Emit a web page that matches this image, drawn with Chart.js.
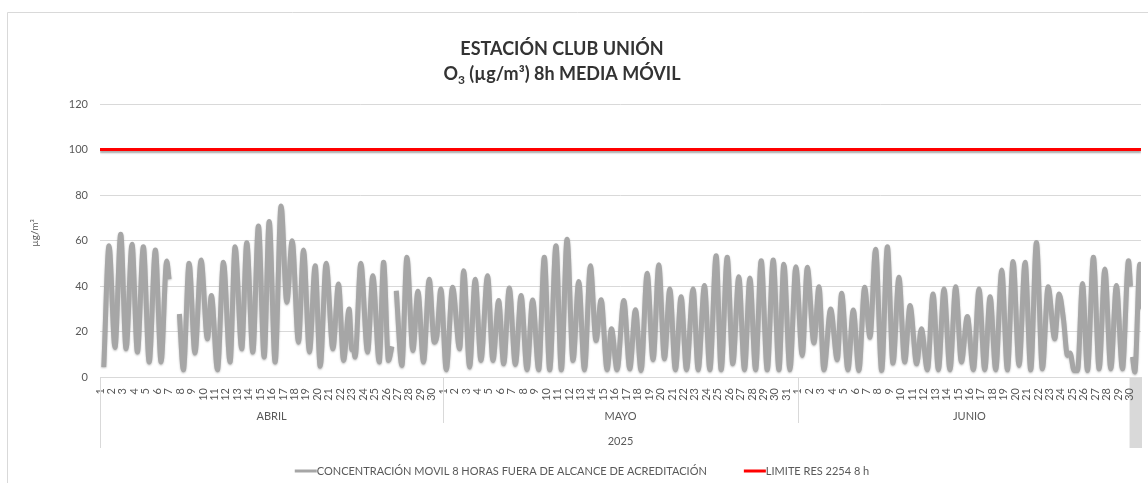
<!DOCTYPE html>
<html>
<head>
<meta charset="utf-8">
<script src="https://cdn.jsdelivr.net/npm/chart.js@4.4.1/dist/chart.umd.min.js"></script>
<style>
  html, body { margin: 0; padding: 0; background: #fff; }
</style>
</head>
<body>
<canvas id="o3Chart" width="1148" height="483"></canvas>
<script>
// media movil 8h de O3: dia contado desde el 1 de abril 00h, valor en ug/m3 (null = sin dato)
const o3Days = [
  0.33, 0.79, 1.31, 1.81, 2.28, 2.80, 3.27, 3.79, 4.30, 4.84, 5.34, 5.83, 6.04, 6.50,
  6.94, 7.29, 7.79, 8.30, 8.84, 9.39, 9.74, 10.27, 10.79, 11.37, 11.81, 12.39, 12.83,
  13.36, 13.85, 14.35, 14.79, 15.31, 15.83, 16.33, 16.80, 17.35, 17.79, 18.31, 18.81,
  19.25, 19.77, 20.36, 20.85, 21.29, 21.78, 22.02, 22.14, 22.30, 22.80, 23.39, 23.85,
  24.41, 24.79, 25.22, 25.52, 25.70, 25.90, 26.39, 26.83, 27.35, 27.79, 28.28, 28.78,
  29.22, 29.45, 29.80, 30.27, 30.82, 31.44, 31.79, 32.31, 32.80, 33.30, 33.88, 34.35,
  34.85, 35.29, 35.78, 36.31, 36.81, 37.33, 37.82, 38.35, 38.84, 39.31, 39.86, 40.33,
  40.83, 41.35, 41.85, 42.35, 42.87, 43.36, 43.81, 44.33, 44.71, 45.20, 45.79, 46.31,
  46.81, 47.30, 47.83, 48.35, 48.85, 49.34, 49.81, 50.30, 50.80, 51.27, 51.85, 52.29,
  52.84, 53.31, 53.86, 54.30, 54.83, 55.32, 55.84, 56.34, 56.81, 57.31, 57.80, 58.33,
  58.85, 59.35, 59.78, 60.31, 60.83, 61.39, 61.83, 62.41, 62.85, 63.28, 63.87, 64.45,
  64.83, 65.38, 65.85, 66.34, 66.84, 67.31, 67.80, 68.33, 68.83, 69.32, 69.84, 70.34,
  70.81, 71.39, 71.80, 72.33, 72.82, 73.29, 73.78, 74.30, 74.80, 75.30, 75.82, 76.35,
  76.84, 77.34, 77.81, 78.30, 78.83, 79.32, 79.82, 80.34, 80.87, 81.36, 81.86, 82.38,
  82.88, 83.46, 83.84, 84.22, 84.57, 84.80, 85.15, 85.45, 85.89, 86.32, 86.84, 87.34,
  87.84, 88.36, 88.85, 89.38, 89.91, 90.08, 90.17, 90.26, 90.46, 90.90, 91.00
];
const o3Values = [
  4.4, 57.7, 13, 62.8, 12.4, 58.4, 11, 57.2, 6.6, 55.8, 6.6, 51, 43, null,
  27.7, 3.2, 50, 10.5, 51.4, 16.8, 35.8, 3.2, 50.4, 6.6, 57.2, 12.4, 59,
  11, 66.4, 8.8, 68.4, 6.6, 75.2, 32.9, 59.9, 15.3, 55.8, 11, 48.9,
  4.7, 50, 12.4, 40.9, 7.3, 29.9, 12, 13, 8.8, 50, 11, 44.5,
  6.6, 50.4, 7.3, 13.5, null, 37.9, 5.1, 52.6, 11.7, 37.7, 6.6, 43,
  15.3, 18, 38.7, 3.2, 39.4, 12.4, 46.7, 4.4, 43, 7.3, 44.5, 7.3,
  33.6, 5.8, 39.1, 5.5, 35.8, 3.2, 33.9, 3.2, 52.6, 3.2, 57.7, 3.2,
  60.6, 7.3, 42, 3.2, 48.9, 16, 34, 3.2, 21.2, 3.2, 33.6, 3.6,
  29.6, 2.9, 45.6, 7.6, 49.3, 8, 38.7, 3.2, 35.3, 3.2, 38.7, 3.2,
  40.2, 3.2, 53.3, 3.2, 52.6, 5.8, 44.1, 3.2, 43.5, 3.2, 51.1, 3.2,
  51.4, 3.2, 49.6, 3.2, 48.5, 9.5, 48.2, 15, 39.7, 3.2, 29.9, 7.6,
  36.8, 3.2, 29.4, 2.9, 39.4, 17.5, 56.2, 2.9, 57.2, 6.1, 43.8, 6.6,
  31.4, 5.8, 21.2, 3.2, 36.5, 3.2, 38.7, 3.2, 39.7, 6.6, 26.6, 3.2,
  38.7, 3.2, 35.3, 3.2, 47, 3.2, 50.8, 5.1, 50.4, 3.2, 59.1, 3.6,
  39.7, 16.8, 36.5, 25.6, 9.5, 10.5, 2.9, 2.9, 41.1, 2.9, 52.6, 3.6,
  47.5, 3.6, 40.2, 3.6, 51.1, 40, null, 8.8, 2.2, 49.6, 30
];
const limitValue = 100;

const monthNames = ['ABRIL', 'MAYO', 'JUNIO'];
const monthLengths = [30, 31, 30];
const yearLabel = '2025';
const seriesLabels = ['CONCENTRACIÓN MOVIL 8 HORAS FUERA DE ALCANCE DE ACREDITACIÓN', 'LIMITE RES 2254 8 h'];
const yTickValues = [0, 20, 40, 60, 80, 100, 120];

const chartFont = 'Lato, "Open Sans", sans-serif';
const textColor = '#595959';
const gridColor = '#d9d9d9';
const o3Color = '#a6a6a6';
const limitColor = '#ff0000';

// una marca por dia, con el numero del dia dentro del mes
const dayTicks = [];
const dayLabels = [];
const monthStarts = [];
let dayOffset = 0;
monthLengths.forEach(len => {
    monthStarts.push(dayOffset);
    for (let d = 1; d <= len; d++) {
        dayTicks.push(dayOffset + d - 1);
        dayLabels.push(String(d));
    }
    dayOffset += len;
});
const totalDays = dayOffset;

// sombra ligera como en excel
const lineShadow = {
    id: 'lineShadow',
    beforeDatasetDraw(chart, args) {
        const ctx = chart.ctx;
        ctx.save();
        if (args.index === 1) {
            ctx.shadowColor = 'rgba(0,0,0,0.35)';
            ctx.shadowBlur = 2;
            ctx.shadowOffsetY = 2;
        } else {
            ctx.shadowColor = 'rgba(0,0,0,0.25)';
            ctx.shadowBlur = 2;
            ctx.shadowOffsetY = 1;
        }
    },
    afterDatasetDraw(chart) {
        chart.ctx.restore();
    }
};

const excelLook = {
    id: 'excelLook',
    beforeDraw(chart) {
        const { ctx, scales: { x } } = chart;
        ctx.save();
        ctx.fillStyle = '#fff';
        ctx.fillRect(0, 0, chart.width, chart.height);
        // marco del grafico
        ctx.strokeStyle = gridColor;
        ctx.lineWidth = 1;
        ctx.beginPath();
        ctx.moveTo(7.5, chart.height);
        ctx.lineTo(7.5, 12.5);
        ctx.lineTo(chart.width, 12.5);
        ctx.stroke();
        // ultimo dia seleccionado (gris)
        const gx0 = x.getPixelForValue(dayTicks[dayTicks.length - 1]);
        const gx1 = x.getPixelForValue(totalDays);
        ctx.fillStyle = '#d9d9d9';
        ctx.fillRect(gx0, x.top, gx1 - gx0, 71);
        ctx.restore();
    },
    afterDraw(chart) {
        const { ctx, scales: { x }, chartArea } = chart;
        ctx.save();

        // separadores de meses
        ctx.strokeStyle = gridColor;
        ctx.lineWidth = 1;
        const edges = monthStarts.concat([totalDays]);
        edges.forEach((d, i) => {
            const px = Math.round(x.getPixelForValue(d)) + 0.5;
            const outer = i === 0 || i === edges.length - 1;
            ctx.beginPath();
            ctx.moveTo(px, x.top);
            ctx.lineTo(px, outer ? 448 : 423);
            ctx.stroke();
        });

        // nombres de meses y anio
        ctx.fillStyle = textColor;
        ctx.font = '11px ' + chartFont;
        ctx.textAlign = 'center';
        ctx.textBaseline = 'middle';
        monthNames.forEach((name, i) => {
            const mid = monthStarts[i] + monthLengths[i] / 2;
            ctx.fillText(name, x.getPixelForValue(mid), 416);
        });
        ctx.fillText(yearLabel, (chartArea.left + chartArea.right) / 2, 441);

        // titulo del eje y
        ctx.save();
        ctx.translate(35, 233);
        ctx.rotate(-Math.PI / 2);
        ctx.font = '10px ' + chartFont;
        ctx.fillText('µg/m³', 0, 0);
        ctx.restore();

        // titulo
        ctx.fillStyle = '#333333';
        ctx.textBaseline = 'alphabetic';
        ctx.textAlign = 'left';
        const big = 'bold 18px ' + chartFont;
        const small = 'bold 12px ' + chartFont;
        ctx.font = big;
        const t1 = 'ESTACIÓN CLUB UNIÓN';
        const w1 = ctx.measureText(t1).width;
        ctx.fillText(t1, 562 - w1 / 2, 55);
        const partA = 'O', partB = '3', partC = ' (µg/m³) 8h MEDIA MÓVIL';
        const wa = ctx.measureText(partA).width;
        const wc = ctx.measureText(partC).width;
        ctx.font = small;
        const wb = ctx.measureText(partB).width;
        let tx = 562 - (wa + wb + wc) / 2;
        ctx.font = big;
        ctx.fillText(partA, tx, 80);
        ctx.font = small;
        ctx.fillText(partB, tx + wa, 84);
        ctx.font = big;
        ctx.fillText(partC, tx + wa + wb, 80);

        // leyenda
        ctx.font = '11px ' + chartFont;
        ctx.textBaseline = 'middle';
        const ly = 471;
        const sample = 22;
        const gap = 37;
        const lw1 = ctx.measureText(seriesLabels[0]).width;
        const lw2 = ctx.measureText(seriesLabels[1]).width;
        const total = sample + lw1 + gap + sample + lw2;
        let lx = 582 - total / 2;
        [[o3Color, lw1], [limitColor, lw2]].forEach(([col, w], i) => {
            ctx.strokeStyle = col;
            ctx.lineWidth = 3;
            ctx.beginPath();
            ctx.moveTo(lx, ly);
            ctx.lineTo(lx + sample, ly);
            ctx.stroke();
            ctx.fillStyle = textColor;
            ctx.fillText(seriesLabels[i], lx + sample, ly);
            lx += sample + w + gap;
        });
        ctx.restore();
    }
};

new Chart(document.getElementById('o3Chart'), {
    type: 'line',
    data: {
        datasets: [
            {
                label: seriesLabels[0],
                data: o3Days.map((d, i) => ({ x: d, y: o3Values[i] })),
                borderColor: o3Color,
                borderWidth: 5,
                pointRadius: 0,
                cubicInterpolationMode: 'monotone',
                spanGaps: false
            },
            {
                label: seriesLabels[1],
                data: [{ x: 0, y: limitValue }, { x: totalDays, y: limitValue }],
                borderColor: limitColor,
                borderWidth: 3,
                pointRadius: 0
            }
        ]
    },
    options: {
        responsive: false,
        animation: false,
        events: [],
        layout: { padding: { top: 104, right: 7, left: 0, bottom: 0 } },
        plugins: {
            legend: { display: false },
            tooltip: { enabled: false }
        },
        scales: {
            x: {
                type: 'linear',
                min: 0,
                max: totalDays,
                afterBuildTicks: scale => { scale.ticks = dayTicks.map(v => ({ value: v })); },
                afterFit: scale => { scale.height = 106; },
                ticks: {
                    autoSkip: false,
                    minRotation: 90,
                    maxRotation: 90,
                    padding: 3,
                    color: textColor,
                    font: { family: chartFont, size: 11 },
                    callback: (value, index) => dayLabels[index]
                },
                grid: { display: false },
                border: { display: true, color: gridColor }
            },
            y: {
                min: 0,
                max: 120,
                afterBuildTicks: scale => { scale.ticks = yTickValues.map(v => ({ value: v })); },
                afterFit: scale => { scale.width = 100; },
                ticks: {
                    padding: 12,
                    color: textColor,
                    font: { family: chartFont, size: 11 }
                },
                grid: { color: gridColor, drawTicks: false },
                border: { display: false }
            }
        }
    },
    plugins: [lineShadow, excelLook]
});
</script>
</body>
</html>
